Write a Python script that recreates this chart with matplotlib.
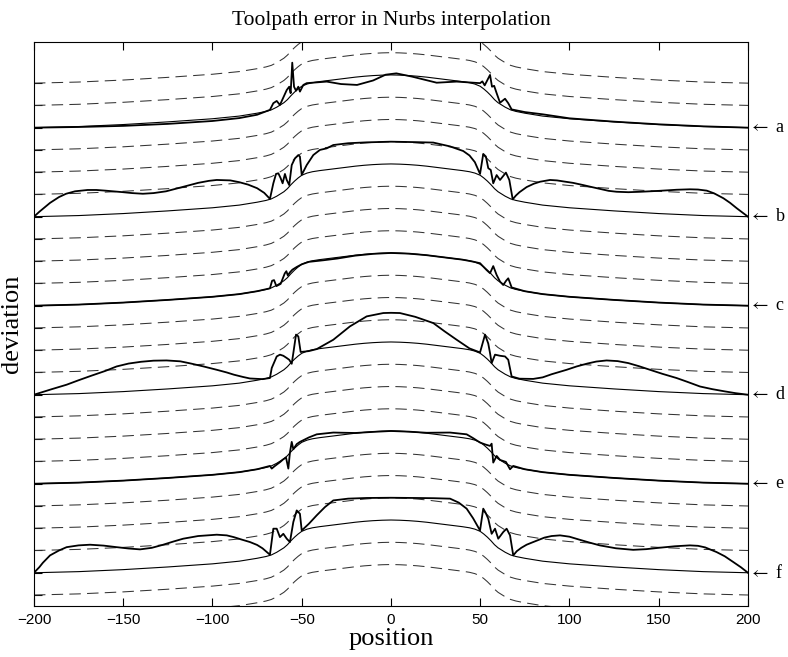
import numpy as np
import matplotlib.pyplot as plt

plt.rcParams['font.family'] = ['Liberation Serif', 'DejaVu Serif']
plt.rcParams['mathtext.fontset'] = 'stix'

# nominal profile, left half (x <= 0), mirrored for the right half
prof_x = np.array([-200, -175, -150, -125, -100, -85, -75, -70, -67, -64, -62, -60, -58, -56,
                   -54, -52, -50, -47, -44, -40, -35, -30, -25, -20, -15, -10, -5, 0])
prof_p = np.array([0, 0.05, 0.14, 0.26, 0.40, 0.52, 0.65, 0.73, 0.80, 0.92, 1.02, 1.12, 1.26, 1.44,
                   1.60, 1.74, 1.86, 1.96, 2.02, 2.07, 2.12, 2.17, 2.22, 2.27, 2.31, 2.34, 2.36, 2.37])

# toolpath curves (height above their own baseline)
a_x = [-200, -175, -150, -125, -100, -85, -75, -67.8, -65.9, -64.0, -62.2, -58.4, -57.0, -56.2,
       -55.3, -54.3, -53.2, -51.9, -51.0, -49.1, -47.2, -36, -28, -19, -10, -3, 3, 12, 25.6,
       36.8, 49.9, 51.2, 52.5, 55.5, 56.6, 57.8, 59.2, 61.1, 63.9, 65.7, 67.6, 75, 85, 100,
       125, 150, 175, 200]
a_y = [0, 0.03, 0.08, 0.17, 0.30, 0.43, 0.58, 0.80, 1.10, 1.20, 1.02, 1.69, 1.84, 1.55,
       2.92, 1.84, 1.66, 1.84, 1.62, 1.92, 2.0, 2.07, 1.96, 1.92, 2.12, 2.38, 2.44, 2.29, 2.02,
       2.07, 2.0, 2.08, 1.9, 2.37, 1.84, 1.88, 1.55, 1.12, 1.30, 1.10, 0.82, 0.70, 0.60, 0.42,
       0.27, 0.15, 0.06, 0]

b_x = [-200, -197, -194, -191, -186, -182, -177, -170, -165, -160, -150, -145, -139, -133, -126,
       -116, -108, -102, -97.6, -90, -85, -80, -75, -71, -67.8, -65.9, -64.4, -63.1, -61.8, -60.7,
       -59.4, -58.4, -57.0, -55.6, -53.8, -51.9, -51.0, -50.0, -47.2, -43.5, -39.8, -36, -32.3,
       -24, -13.6, 0, 13.6, 23.7, 33, 40.5, 44, 47, 49.9, 51.7, 53.2, 54.5, 55.9, 57.3, 59.2,
       61.1, 64.4, 66.3, 68.2, 70, 72, 76, 80, 83.5, 89.1, 93, 97, 102, 107.7, 112, 117, 122,
       126.4, 133, 140, 150, 160, 167.5, 172, 176.9, 181, 186.2, 190, 193.7, 197, 200]
b_y = [0, 0.22, 0.42, 0.62, 0.88, 1.03, 1.14, 1.20, 1.20, 1.17, 1.10, 1.06, 1.03, 1.06, 1.14,
       1.35, 1.52, 1.61, 1.65, 1.63, 1.55, 1.44, 1.28, 1.07, 0.80, 1.50, 1.92, 1.95, 1.73, 1.50,
       1.92, 1.65, 1.42, 2.32, 2.62, 2.77, 2.70, 1.88, 2.32, 2.77, 3.0, 3.07, 3.22,
       3.30, 3.34, 3.37, 3.35, 3.33, 3.16, 2.95, 2.75, 2.45, 1.92, 2.82, 2.70, 2.18, 2.10, 1.50, 1.87,
       1.65, 1.98, 1.65, 0.78, 0.95, 1.10, 1.33, 1.48, 1.57, 1.65, 1.63, 1.58, 1.52, 1.42, 1.34, 1.25, 1.16,
       1.12, 1.10, 1.12, 1.16, 1.21, 1.23, 1.22, 1.17, 1.05, 0.83, 0.62, 0.38, 0.18, 0]

c_x = [-200, -175, -150, -125, -100, -85, -75, -67.8, -66.6, -65.5, -64.2, -61.8, -59.5, -58.6,
       -57.8, -56.6, -55.2, -52.8, -50, -46, -38, -30, -20, -10, 0, 10, 20, 30, 40, 46, 49.9,
       53.6, 55.5, 57.3, 59.2, 61.1, 62.9, 64.5, 65.7, 66.8, 67.6, 75, 85, 100, 125, 150, 175, 200]
c_y = [0, 0.05, 0.14, 0.26, 0.40, 0.52, 0.65, 0.78, 1.12, 1.15, 0.88, 0.98, 1.45, 1.55,
       1.36, 1.50, 1.62, 1.74, 1.86, 1.97, 2.04, 2.12, 2.25, 2.33, 2.37, 2.34, 2.27, 2.17, 2.07, 1.98, 1.91,
       1.60, 1.46, 1.78, 1.38, 1.08, 0.93, 1.12, 1.23, 1.0, 0.82, 0.65, 0.52, 0.40, 0.26, 0.14, 0.05, 0]

d_x = [-200, -190, -181.7, -175, -168, -160, -153.7, -147, -140, -133, -125.7, -118, -112, -105,
       -97.6, -92, -88, -83, -79, -72, -67.8, -66.8, -64.0, -62.2, -60.3, -58.4, -57.0, -55.6,
       -54.7, -53.2, -51.9, -50.6, -46, -41.6, -32.3, -23, -13.6, -4.3, 0, 5, 13.6, 23.7, 30,
       36.8, 44, 49.9, 52.7, 54.5, 55.5, 56.4, 58.3, 61.1, 63.9, 65.7, 67.6, 72, 79.7, 85, 90,
       98.4, 104, 110, 115, 120.8, 127, 133, 139, 145.1, 152, 160, 166, 173.1, 180, 187, 193, 200]
d_y = [0, 0.25, 0.45, 0.65, 0.85, 1.07, 1.27, 1.40, 1.48, 1.53, 1.54, 1.50, 1.40, 1.27,
       1.12, 1.00, 0.90, 0.80, 0.73, 0.70, 0.75, 1.20, 1.72, 1.80, 1.75, 1.65, 1.57, 1.39,
       1.87, 2.70, 2.62, 1.92, 1.96, 2.05, 2.47, 3.07, 3.52, 3.67, 3.68, 3.67, 3.50, 3.22, 2.85,
       2.47, 2.08, 1.90, 2.70, 2.30, 1.87, 1.42, 1.80, 1.75, 1.72, 1.57, 0.82, 0.72, 0.71, 0.78, 0.92,
       1.12, 1.27, 1.40, 1.49, 1.54, 1.51, 1.42, 1.28, 1.12, 0.94, 0.75, 0.58, 0.37, 0.25, 0.15, 0.07, 0]

e_x = [-200, -175, -150, -125, -100, -85, -75, -67.8, -66.8, -65.0, -62, -60.3, -58.8, -57.5,
       -56.6, -55.6, -54.7, -52.8, -51.0, -46, -41.6, -32.3, -20, -10, 0, 10, 20, 33.1, 42.4,
       46, 49.9, 53, 55.5, 56.4, 57.3, 59.2, 61.1, 64.4, 66.7, 68.5, 75, 85, 100, 125, 150, 175, 200]
e_y = [0, 0.05, 0.14, 0.26, 0.40, 0.52, 0.65, 0.80, 0.68, 0.80, 0.98, 1.10, 1.18, 0.68,
       1.40, 1.88, 1.55, 1.78, 1.88, 2.08, 2.22, 2.30, 2.28, 2.33, 2.37, 2.34, 2.29, 2.30, 2.22,
       2.05, 1.85, 1.76, 1.70, 1.80, 0.95, 1.25, 1.07, 0.98, 0.65, 0.80, 0.65, 0.52, 0.40, 0.26, 0.14, 0.05, 0]

f_x = [-200, -197, -195, -191, -186, -181.7, -175, -168.6, -161, -153.7, -147, -140.6, -134, -128,
       -122, -116.4, -108, -97.6, -92, -88, -84, -79, -75, -72, -67.8, -65.9, -64.0, -62.2, -60.3,
       -58.4, -56.6, -54.7, -52.8, -51.0, -50.0, -46, -41.6, -37, -32.3, -24, -13.6, 0, 13.6, 24,
       33.1, 38, 42.4, 46, 49.9, 51.7, 53, 54.5, 56.4, 58.3, 60.1, 62.9, 64.8, 66.7, 68.5, 70.5,
       73, 76, 79.7, 86, 90, 94.7, 100, 105, 111, 117, 126, 135.7, 143, 150, 159, 167.5, 172, 176,
       182.4, 187, 191.8, 196, 200]
f_y = [0, 0.25, 0.45, 0.78, 1.0, 1.15, 1.23, 1.26, 1.22, 1.15, 1.09, 1.05, 1.12, 1.25,
       1.40, 1.53, 1.65, 1.71, 1.68, 1.60, 1.50, 1.38, 1.25, 1.10, 0.81, 1.98, 1.98, 1.60, 1.75,
       1.53, 1.38, 2.28, 2.80, 2.65, 1.90, 2.20, 2.58, 2.95, 3.25, 3.33, 3.36, 3.37, 3.36, 3.35,
       3.33, 3.15, 2.88, 2.45, 1.90, 2.88, 2.70, 2.43, 1.75, 1.98, 1.53, 1.83, 1.98, 1.68, 0.78, 0.97,
       1.12, 1.26, 1.38, 1.58, 1.65, 1.68, 1.62, 1.50, 1.36, 1.23, 1.10, 1.03, 1.06, 1.12, 1.19, 1.23, 1.21, 1.14,
       0.93, 0.74, 0.48, 0.25, 0]

letters = ['a', 'b', 'c', 'd', 'e', 'f']
letter_k = [0, 4, 8, 12, 16, 20]
curves = [(a_x, a_y), (b_x, b_y), (c_x, c_y), (d_x, d_y), (e_x, e_y), (f_x, f_y)]
line_k = list(range(-2, 23))
tick_k = list(range(-2, 22))

x_full = np.concatenate([prof_x, -prof_x[-2::-1]])
p_full = np.concatenate([prof_p, prof_p[-2::-1]])

fig = plt.figure(figsize=(7.88, 6.57), dpi=100)
ax = fig.add_axes([0.0431, 0.0781, 0.9061, 0.8580])

for k in line_k:
    if k in letter_k:
        ax.plot(x_full, p_full - k, color='k', lw=0.8)
    else:
        ax.plot(x_full, p_full - k, color='#333333', lw=0.75, dashes=(11, 6))

for (cx, cy), k in zip(curves, letter_k):
    ax.plot(cx, np.array(cy) - k, color='k', lw=1.3)

for lab, k in zip(letters, letter_k):
    ax.text(1.002, -k, r'$\leftarrow$' + ' ' + lab, transform=ax.get_yaxis_transform(),
            va='center', ha='left', fontsize=13)

ax.set_xlim(-200, 200)
ax.set_ylim(-21.48, 3.85)
ax.set_xticks(range(-200, 201, 50))
ax.set_yticks([-k for k in tick_k])
ax.set_yticklabels([])
ax.tick_params(direction='in', top=True, right=False, length=6, labelsize=11,
               labelfontfamily='Liberation Sans', pad=5)
ax.set_title('Toolpath error in Nurbs interpolation', fontsize=15.5, pad=12)
ax.set_xlabel('position', fontsize=19, labelpad=1)
ax.set_ylabel('deviation', fontsize=19, labelpad=3)

fig.savefig('out.png', dpi=100)
